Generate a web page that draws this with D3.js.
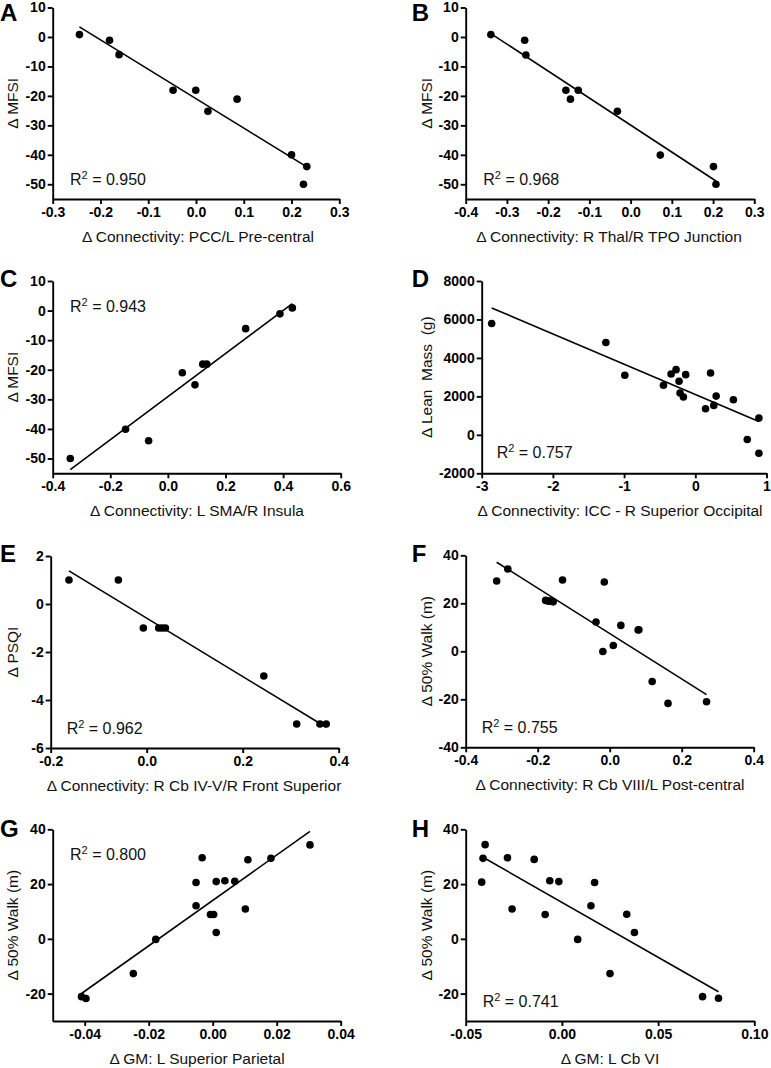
<!DOCTYPE html>
<html><head><meta charset="utf-8">
<script src="https://cdn.jsdelivr.net/npm/d3@7"></script>
<style>
html,body{margin:0;padding:0;background:#fff;}
svg{display:block;font-family:"Liberation Sans",Arial,Helvetica,sans-serif;}
</style></head><body>
<svg id="chart" width="771" height="1068"></svg>
<script>
// ---------------- DATA ----------------
// Panel A
const aX = [-0.244, -0.181, -0.161, -0.048, -0.0005, 0.025, 0.086, 0.200, 0.225, 0.232];
const aY = [0.8, -1.1, -6.0, -18.1, -18.1, -25.2, -21.1, -40.0, -50.0, -44.0];
// Panel B
const bX = [-0.339, -0.257, -0.254, -0.157, -0.146, -0.127, -0.032, 0.072, 0.201, 0.207];
const bY = [0.8, -1.1, -6.1, -18.1, -21.1, -18.1, -25.2, -40.1, -44.0, -50.0];
// Panel C
const cX = [-0.339, -0.147, -0.067, 0.050, 0.094, 0.121, 0.135, 0.270, 0.389, 0.432];
const cY = [-50.0, -40.1, -44.0, -21.0, -25.1, -18.1, -18.1, -6.1, -1.1, 0.9];
// Panel D
const dX = [-2.86, -1.256, -0.99, -0.447, -0.34, -0.27, -0.228, -0.214, -0.167, -0.135, 0.144, 0.214, 0.26, 0.293, 0.535, 0.73, 0.893, 0.893];
const dY = [5790, 4800, 3100, 2575, 3165, 3390, 2785, 2175, 1965, 3130, 1360, 3215, 1530, 2015, 1825, -245, 870, -955];
// Panel E
const eX = [-0.162, -0.059, -0.007, 0.025, 0.032, 0.039, 0.244, 0.3125, 0.361, 0.374];
const eY = [1, 1, -1, -1, -1, -1, -3, -5, -5, -5];
// Panel F
const fX = [-0.314, -0.283, -0.178, -0.170, -0.162, -0.157, -0.131, -0.038, -0.015, -0.019, 0.010, 0.031, 0.079, 0.081, 0.118, 0.162, 0.269];
const fY = [29.3, 34.3, 21.2, 20.9, 21.0, 20.6, 29.7, 12.2, 28.9, -0.1, 2.4, 10.8, 8.9, 9.0, -12.6, -21.7, -21.0];
// Panel G
const gX = [-0.0410, -0.0396, -0.0248, -0.0178, -0.0052, -0.0052, -0.0033, -0.0007, 0.0003, 0.0011, 0.0011, 0.0038, 0.0069, 0.0102, 0.0110, 0.0182, 0.0304];
const gY = [-21.1, -21.8, -12.7, -0.2, 20.6, 12.1, 29.6, 8.9, 8.9, 20.9, 2.3, 21.2, 21.0, 10.9, 28.9, 29.4, 34.3];
// Panel H
const hX = [-0.0399, -0.0410, -0.0417, -0.0283, -0.0259, -0.0144, -0.0087, -0.0063, -0.0016, 0.0082, 0.0151, 0.0170, 0.0250, 0.0337, 0.0377, 0.0731, 0.0814];
const hY = [34.4, 29.4, 20.7, 29.6, 10.9, 29.0, 8.9, 21.2, 20.9, -0.2, 12.1, 20.6, -12.7, 9.0, 2.3, -21.1, -21.7];

// Tick values and labels
const xTicksA = [-0.3, -0.2, -0.1, 0, 0.1, 0.2, 0.3];
const xLabelsA = ["-0.3", "-0.2", "-0.1", "0.0", "0.1", "0.2", "0.3"];
const xTicksB = [-0.4, -0.3, -0.2, -0.1, 0, 0.1, 0.2, 0.3];
const xLabelsB = ["-0.4", "-0.3", "-0.2", "-0.1", "0.0", "0.1", "0.2", "0.3"];
const xTicksC = [-0.4, -0.2, 0, 0.2, 0.4, 0.6];
const xLabelsC = ["-0.4", "-0.2", "0.0", "0.2", "0.4", "0.6"];
const xTicksD = [-3, -2, -1, 0, 1];
const xLabelsD = ["-3", "-2", "-1", "0", "1"];
const xTicksE = [-0.2, 0, 0.2, 0.4];
const xLabelsE = ["-0.2", "0.0", "0.2", "0.4"];
const xTicksF = [-0.4, -0.2, 0, 0.2, 0.4];
const xLabelsF = ["-0.4", "-0.2", "0.0", "0.2", "0.4"];
const xTicksG = [-0.04, -0.02, 0, 0.02, 0.04];
const xLabelsG = ["-0.04", "-0.02", "0.00", "0.02", "0.04"];
const xTicksH = [-0.05, 0, 0.05, 0.10];
const xLabelsH = ["-0.05", "0.00", "0.05", "0.10"];

const yTicksMFSI = [10, 0, -10, -20, -30, -40, -50];
const yLabelsMFSI = ["10", "0", "-10", "-20", "-30", "-40", "-50"];
const yTicksLean = [8000, 6000, 4000, 2000, 0, -2000];
const yLabelsLean = ["8000", "6000", "4000", "2000", "0", "-2000"];
const yTicksPSQI = [2, 0, -2, -4, -6];
const yLabelsPSQI = ["2", "0", "-2", "-4", "-6"];
const yTicksWalkF = [40, 20, 0, -20, -40];
const yLabelsWalkF = ["40", "20", "0", "-20", "-40"];
const yTicksWalkGH = [40, 20, 0, -20];
const yLabelsWalkGH = ["40", "20", "0", "-20"];

const letters = ["A", "B", "C", "D", "E", "F", "G", "H"];
const xTitles = [
  "\u0394 Connectivity: PCC/L Pre-central",
  "\u0394 Connectivity: R Thal/R TPO Junction",
  "\u0394 Connectivity: L SMA/R Insula",
  "\u0394 Connectivity: ICC - R Superior Occipital",
  "\u0394 Connectivity: R Cb IV-V/R Front Superior",
  "\u0394 Connectivity: R Cb VIII/L Post-central",
  "\u0394 GM: L Superior Parietal",
  "\u0394 GM: L Cb VI"
];
const yTitles = ["\u0394 MFSI", "\u0394 MFSI", "\u0394 MFSI", "\u0394 Lean  Mass  (g)", "\u0394 PSQI", "\u0394 50% Walk (m)", "\u0394 50% Walk (m)", "\u0394 50% Walk (m)"];
const r2Values = ["0.950", "0.968", "0.943", "0.757", "0.962", "0.755", "0.800", "0.741"];

// ---------------- LAYOUT (pixels) ----------------
const layout = [
  {x0: 52.7, x1: 339.3, yTop: 7.5, yBot: 199, lx: 0, ly: 21, tx: 18, r2x: 70, r2y: 185, xtc: 198},
  {x0: 465.7, x1: 754.3, yTop: 7.5, yBot: 199, lx: 411.7, ly: 21, tx: 432, r2x: 483.3, r2y: 185, xtc: 609},
  {x0: 52.7, x1: 340.7, yTop: 281, yBot: 473.3, lx: 0, ly: 287, tx: 18, r2x: 70, r2y: 311.7, xtc: 197},
  {x0: 481.7, x1: 766.5, yTop: 281, yBot: 473.3, lx: 411.7, ly: 287, tx: 432, r2x: 496.7, r2y: 458.3, xtc: 620},
  {x0: 50.7, x1: 338.7, yTop: 556, yBot: 748, lx: 0, ly: 561.7, tx: 18, r2x: 66.7, r2y: 734, xtc: 194},
  {x0: 465.7, x1: 753.7, yTop: 555.3, yBot: 747.3, lx: 411.7, ly: 561.7, tx: 432, r2x: 481.7, r2y: 733.3, xtc: 610},
  {x0: 52.7, x1: 340.7, yTop: 829.3, yBot: 1021, lx: 0, ly: 837, tx: 18, r2x: 70, r2y: 860, xtc: 197},
  {x0: 465.7, x1: 754.3, yTop: 829.3, yBot: 1021, lx: 411.7, ly: 837, tx: 432, r2x: 482.7, r2y: 1006.7, xtc: 610}
];

const panels = [
  {xs: aX, ys: aY, xDom: [-0.3, 0.3], yDom: [-55, 10], xT: xTicksA, xL: xLabelsA, yT: yTicksMFSI, yL: yLabelsMFSI},
  {xs: bX, ys: bY, xDom: [-0.4, 0.3], yDom: [-55, 10], xT: xTicksB, xL: xLabelsB, yT: yTicksMFSI, yL: yLabelsMFSI},
  {xs: cX, ys: cY, xDom: [-0.4, 0.6], yDom: [-55, 10], xT: xTicksC, xL: xLabelsC, yT: yTicksMFSI, yL: yLabelsMFSI},
  {xs: dX, ys: dY, xDom: [-3, 1], yDom: [-2000, 8000], xT: xTicksD, xL: xLabelsD, yT: yTicksLean, yL: yLabelsLean},
  {xs: eX, ys: eY, xDom: [-0.2, 0.4], yDom: [-6, 2], xT: xTicksE, xL: xLabelsE, yT: yTicksPSQI, yL: yLabelsPSQI},
  {xs: fX, ys: fY, xDom: [-0.4, 0.4], yDom: [-40, 40], xT: xTicksF, xL: xLabelsF, yT: yTicksWalkF, yL: yLabelsWalkF},
  {xs: gX, ys: gY, xDom: [-0.05, 0.04], yDom: [-30, 40], xT: xTicksG, xL: xLabelsG, yT: yTicksWalkGH, yL: yLabelsWalkGH},
  {xs: hX, ys: hY, xDom: [-0.05, 0.10], yDom: [-30, 40], xT: xTicksH, xL: xLabelsH, yT: yTicksWalkGH, yL: yLabelsWalkGH}
];

// ---------------- DRAW ----------------
const svg = d3.select("#chart");
const FONT = '"Liberation Sans", Arial, Helvetica, sans-serif';
const TICK_FONT = 14, TITLE_FONT = 15.5, R2_FONT = 16, LETTER_FONT = 24;

function linreg(xs, ys) {
  const mx = d3.mean(xs), my = d3.mean(ys);
  let sxy = 0, sxx = 0;
  xs.forEach((x, i) => { sxy += (x - mx) * (ys[i] - my); sxx += (x - mx) * (x - mx); });
  const b = sxy / sxx;
  return {b: b, a: my - b * mx};
}

panels.forEach((p, i) => {
  const L = layout[i];
  const x = d3.scaleLinear().domain(p.xDom).range([L.x0, L.x1]);
  const y = d3.scaleLinear().domain(p.yDom).range([L.yBot, L.yTop]);
  const g = svg.append("g");

  const xAxis = d3.axisBottom(x).tickValues(p.xT).tickFormat((d, k) => p.xL[k])
    .tickSizeInner(5).tickSizeOuter(0).tickPadding(3);
  const yAxis = d3.axisLeft(y).tickValues(p.yT).tickFormat((d, k) => p.yL[k])
    .tickSizeInner(5).tickSizeOuter(0).tickPadding(2);

  const gx = g.append("g").attr("transform", `translate(0,${L.yBot})`).call(xAxis);
  const gy = g.append("g").attr("transform", `translate(${L.x0},0)`).call(yAxis);
  [gx, gy].forEach(ax => {
    ax.attr("font-family", FONT).attr("font-size", TICK_FONT).attr("font-weight", "bold");
    ax.select(".domain").attr("stroke", "#000").attr("stroke-width", 1.9);
    ax.selectAll(".tick line").attr("stroke", "#000").attr("stroke-width", 1.9);
    ax.selectAll(".tick text").attr("fill", "#000");
  });

  // regression line
  const r = linreg(p.xs, p.ys);
  const xr = d3.extent(p.xs);
  g.append("line")
    .attr("x1", x(xr[0])).attr("y1", y(r.a + r.b * xr[0]))
    .attr("x2", x(xr[1])).attr("y2", y(r.a + r.b * xr[1]))
    .attr("stroke", "#000").attr("stroke-width", 1.6);

  // points
  g.selectAll("circle.pt").data(p.xs.map((v, k) => [v, p.ys[k]])).join("circle")
    .attr("class", "pt")
    .attr("cx", d => x(d[0])).attr("cy", d => y(d[1])).attr("r", 3.8).attr("fill", "#000");

  // x title
  g.append("text").attr("x", L.xtc).attr("y", L.yBot + 43)
    .attr("text-anchor", "middle").attr("font-size", TITLE_FONT).attr("fill", "#111")
    .text(xTitles[i]);
  // y title
  g.append("text").attr("transform", `translate(${L.tx},${(L.yTop + L.yBot) / 2}) rotate(-90)`)
    .attr("text-anchor", "middle").attr("font-size", TITLE_FONT).attr("fill", "#111")
    .style("white-space", "pre")
    .text(yTitles[i]);
  // panel letter
  g.append("text").attr("x", L.lx).attr("y", L.ly)
    .attr("font-size", LETTER_FONT).attr("font-weight", "bold").attr("fill", "#000")
    .text(letters[i]);
  // R^2 label
  const t = g.append("text").attr("x", L.r2x).attr("y", L.r2y)
    .attr("font-size", R2_FONT).attr("fill", "#111");
  t.append("tspan").text("R");
  t.append("tspan").attr("dy", -6).attr("font-size", 11).text("2");
  t.append("tspan").attr("dy", 6).style("white-space", "pre").text(" = " + r2Values[i]);
});
</script>
</body></html>
